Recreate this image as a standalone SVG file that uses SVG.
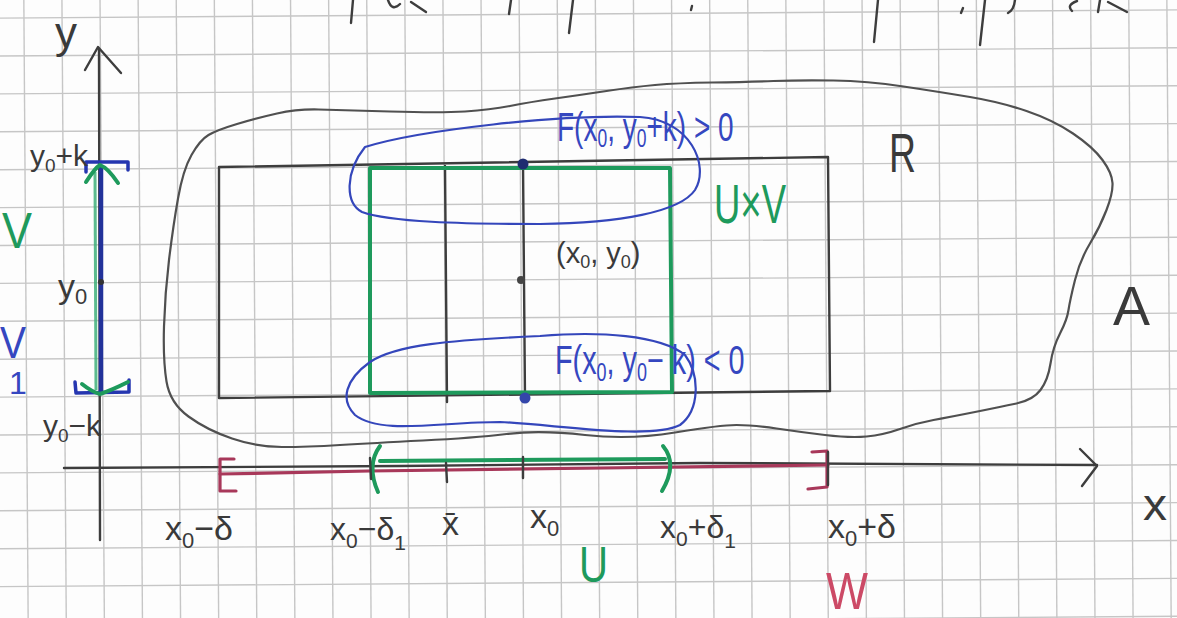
<svg xmlns="http://www.w3.org/2000/svg" width="1177" height="618" viewBox="0 0 1177 618">
<defs>
<style>
.grid line{stroke:#c6c6c6;stroke-width:1.4}
.ink{fill:none;stroke:#3d3d3d;stroke-width:2.4;stroke-linecap:round;stroke-linejoin:round}
.blob{fill:none;stroke:#505050;stroke-width:2.2;stroke-linejoin:round}
.grn{fill:none;stroke:#1e9a5c;stroke-width:4;stroke-linecap:round;stroke-linejoin:round}
.blu{fill:none;stroke:#3446bb;stroke-width:2.2;stroke-linecap:round;stroke-linejoin:round}
.red{fill:none;stroke:#a8385a;stroke-width:3.2;stroke-linecap:round;stroke-linejoin:round}
text{font-family:"Liberation Sans","DejaVu Sans",sans-serif}
.tk{fill:#3a3a3a}
.tb{fill:#3547c0}
.tg{fill:#1e9a5c}
.tr{fill:#cc4a66}
</style>
</defs>
<rect width="1177" height="618" fill="#fdfdfd"/>
<g class="grid" transform="rotate(-0.4 588 309)">
<line x1="26" y1="-10" x2="26" y2="630"/><line x1="64.1" y1="-10" x2="64.1" y2="630"/><line x1="102.2" y1="-10" x2="102.2" y2="630"/><line x1="140.3" y1="-10" x2="140.3" y2="630"/><line x1="178.4" y1="-10" x2="178.4" y2="630"/><line x1="216.5" y1="-10" x2="216.5" y2="630"/><line x1="254.6" y1="-10" x2="254.6" y2="630"/><line x1="292.7" y1="-10" x2="292.7" y2="630"/><line x1="330.8" y1="-10" x2="330.8" y2="630"/><line x1="368.9" y1="-10" x2="368.9" y2="630"/><line x1="407" y1="-10" x2="407" y2="630"/><line x1="445.1" y1="-10" x2="445.1" y2="630"/><line x1="483.2" y1="-10" x2="483.2" y2="630"/><line x1="521.3" y1="-10" x2="521.3" y2="630"/><line x1="559.4" y1="-10" x2="559.4" y2="630"/><line x1="597.5" y1="-10" x2="597.5" y2="630"/><line x1="635.6" y1="-10" x2="635.6" y2="630"/><line x1="673.7" y1="-10" x2="673.7" y2="630"/><line x1="711.8" y1="-10" x2="711.8" y2="630"/><line x1="749.9" y1="-10" x2="749.9" y2="630"/><line x1="788" y1="-10" x2="788" y2="630"/><line x1="826.1" y1="-10" x2="826.1" y2="630"/><line x1="864.2" y1="-10" x2="864.2" y2="630"/><line x1="902.3" y1="-10" x2="902.3" y2="630"/><line x1="940.4" y1="-10" x2="940.4" y2="630"/><line x1="978.5" y1="-10" x2="978.5" y2="630"/><line x1="1016.6" y1="-10" x2="1016.6" y2="630"/><line x1="1054.7" y1="-10" x2="1054.7" y2="630"/><line x1="1092.8" y1="-10" x2="1092.8" y2="630"/><line x1="1130.9" y1="-10" x2="1130.9" y2="630"/><line x1="1169" y1="-10" x2="1169" y2="630"/>
<line x1="-10" y1="14" x2="1190" y2="14"/><line x1="-10" y1="51.9" x2="1190" y2="51.9"/><line x1="-10" y1="89.8" x2="1190" y2="89.8"/><line x1="-10" y1="127.7" x2="1190" y2="127.7"/><line x1="-10" y1="165.6" x2="1190" y2="165.6"/><line x1="-10" y1="203.5" x2="1190" y2="203.5"/><line x1="-10" y1="241.4" x2="1190" y2="241.4"/><line x1="-10" y1="279.3" x2="1190" y2="279.3"/><line x1="-10" y1="317.2" x2="1190" y2="317.2"/><line x1="-10" y1="355.1" x2="1190" y2="355.1"/><line x1="-10" y1="393" x2="1190" y2="393"/><line x1="-10" y1="430.9" x2="1190" y2="430.9"/><line x1="-10" y1="468.8" x2="1190" y2="468.8"/><line x1="-10" y1="506.7" x2="1190" y2="506.7"/><line x1="-10" y1="544.6" x2="1190" y2="544.6"/><line x1="-10" y1="582.5" x2="1190" y2="582.5"/><line x1="-10" y1="620.4" x2="1190" y2="620.4"/>
</g>
<g id="top-fragments" class="ink">
<path d="M353,0 L351,23"/><path d="M388,0 Q392,12 400,4"/><path d="M411,2 L426,12"/><path d="M511,0 L509,14"/><path d="M573,0 L569,33"/><path d="M692,6 L691,10"/><path d="M878,0 L874,42"/><path d="M963,8 L961,13"/><path d="M985,0 L980,45"/><path d="M1015,0 Q1014,10 1008,13"/><path d="M1077,1 Q1066,5 1072,11"/><path d="M1100,0 L1098,12"/><path d="M1108,2 L1127,12"/>
</g>
<g id="set-A">
<path class="blob" d="M208.5,135 Q217,130 237,124 Q257,118 277,113.5 Q297,109 318.5,109.5 Q340,110 390,111.5 Q440,113 465,111.5 Q490,110 510,106 Q530,102 555,98.5 Q580,95 606.5,91 Q633,87 655,85 Q677,83 712,82.5 Q747,82 773.5,81 Q800,80 833.5,80.5 Q867,81 903.5,86.5 Q940,92 970,97 Q1000,102 1026.5,111 Q1053,120 1073,133.5 Q1093,147 1102.5,160 Q1112,173 1112.5,183 Q1113,193 1106.5,210 Q1100,227 1090,243.5 Q1080,260 1075,280 Q1070,300 1068.5,310 Q1067,320 1060,333.5 Q1053,347 1050.5,363.5 Q1048,380 1040.5,390 Q1033,400 1016.5,403.5 Q1000,407 975,412 Q950,417 933.5,420 Q917,423 900,429 Q883,435 866.5,436.5 Q850,438 825,435 Q800,432 776.5,428.5 Q753,425 736.5,425 Q720,425 675,432.5 Q630,440 585,435 Q540,430 506.5,434 Q473,438 423,440.5 Q373,443 340,445 Q307,447 282,447 Q257,447 232,438.5 Q207,430 188.5,416.5 Q170,403 166.5,381.5 Q163,360 164,326.5 Q165,293 169,260 Q173,227 178,198.5 Q183,170 191.5,155 Q200,140 208.5,135 Z"/>
<text class="tk" x="1113" y="325" font-size="56" textLength="37" lengthAdjust="spacingAndGlyphs">A</text>
</g>
<g id="rect-R">
<path class="ink" d="M219,167 L828,157 L830,391 L219,398 Z"/>
<path class="ink" d="M445,166 L447,402"/>
<path class="ink" d="M523,163 L525,398"/>
<text class="tk" x="889" y="172" font-size="56" textLength="27" lengthAdjust="spacingAndGlyphs">R</text>
</g>
<g id="UxV">
<path class="grn" d="M370,168 L670,168 L672,392 L370,393 Z"/>
<text class="tg" x="714" y="223" font-size="56" textLength="72" lengthAdjust="spacingAndGlyphs">U×V</text>
</g>
<g id="upper-set">
<path class="blu" d="M365,147 C420,130 560,114 640,117 C690,120 710,165 695,190 C680,212 620,223 540,224 C460,224 390,222 362,212 C345,203 345,172 365,147 Z"/>
<text class="tb" transform="translate(557,141) scale(0.7,1)" x="0" y="0" font-size="40">F(x<tspan font-size="25" dy="6">0</tspan><tspan dy="-6">, y</tspan><tspan font-size="25" dy="6">0</tspan><tspan dy="-6">+k) &gt; 0</tspan></text>
</g>
<g id="lower-set">
<path class="blu" d="M540,336 C600,331 660,335 685,355 C700,375 700,410 680,425 C650,440 560,425 500,422 C440,422 380,435 355,415 C340,400 345,380 370,362 C395,345 450,340 540,336 Z"/>
<text class="tb" transform="translate(555,374) scale(0.72,1)" x="0" y="0" font-size="40">F(x<tspan font-size="25" dy="7">0</tspan><tspan dy="-7">, y</tspan><tspan font-size="25" dy="7">0</tspan><tspan dy="-7">− k) &lt; 0</tspan></text>
</g>
<g id="point-x0y0">
<circle cx="523" cy="164" r="5.5" fill="#1f2c70"/>
<circle cx="521" cy="280" r="4" fill="#444"/>
<circle cx="525" cy="398" r="5.5" fill="#3446aa"/>
<text class="tk" x="556" y="263" font-size="29">(x<tspan font-size="18" dy="5">0</tspan><tspan dy="-5">, y</tspan><tspan font-size="18" dy="5">0</tspan><tspan dy="-5">)</tspan></text>
</g>
<g id="connectors">
<g id="y-axis">
<path class="ink" d="M100,540 L99,49"/>
<path class="ink" d="M85,70 L98,47 L121,73"/>
<text class="tk" x="55" y="48" font-size="44" textLength="22" lengthAdjust="spacingAndGlyphs">y</text>
</g>
<g id="x-axis">
<path class="ink" d="M64,468 L400,466 L700,463 L1097,465"/>
<path class="ink" d="M1080,449 L1097,466 L1082,486"/>
<text class="tk" x="1143" y="520" font-size="44" textLength="24" lengthAdjust="spacingAndGlyphs">x</text>
</g>
<g id="interval-W">
<path class="red" d="M220,474 L370,471 L600,468 L828,465"/>
<path class="red" d="M234,459 L220,459 L220,491 L236,491"/>
<path class="red" d="M812,452 L827,451 L827,487 L808,489"/>
<path class="ink" d="M828,452 L828,485" stroke-width="3"/>
<text class="tr" x="826" y="609" font-size="52" textLength="42" lengthAdjust="spacingAndGlyphs">W</text>
</g>
<g id="interval-U">
<path class="grn" d="M380,461 L665,459"/>
<path class="grn" d="M380,446 Q366,465 378,492"/>
<path class="grn" d="M663,446 Q678,464 662,491"/>
<path class="ink" d="M370,458 L371,479"/>
<path class="ink" d="M446,463 L447,482"/>
<path class="ink" d="M523,457 L523,478"/>
<text class="tg" x="579" y="582" font-size="50" textLength="29" lengthAdjust="spacingAndGlyphs">U</text>
</g>
<g id="interval-V">
<path d="M95,172 L96,390" fill="none" stroke="#3fb07a" stroke-width="3" opacity="0.85"/>
<path d="M101,165 L101,392" fill="none" stroke="#22329a" stroke-width="4.5"/>
<path d="M86,172 L86,162 L128,162 L128,170" fill="none" stroke="#2536b0" stroke-width="3.5" stroke-linecap="round" stroke-linejoin="round"/>
<path d="M75,382 L76,393 L129,392 L129,380" fill="none" stroke="#2536b0" stroke-width="3.5" stroke-linecap="round" stroke-linejoin="round"/>
<path class="grn" stroke-width="3" d="M86,182 Q95,168 100,165 Q108,168 118,183"/>
<path class="grn" stroke-width="3" d="M82,384 Q92,392 100,394 Q112,390 128,382"/>
<circle cx="101" cy="282" r="3" fill="#333"/>
<text class="tg" x="2" y="248" font-size="50" textLength="30" lengthAdjust="spacingAndGlyphs">V</text>
<text class="tb" x="0" y="358" font-size="44" textLength="26" lengthAdjust="spacingAndGlyphs">V</text>
<text class="tb" x="9" y="394" font-size="32">1</text>
</g>
</g>
<g id="y-labels" class="tk">
<text x="30" y="166" font-size="30">y<tspan font-size="19" dy="6">0</tspan><tspan dy="-6">+k</tspan></text>
<text x="58" y="298" font-size="34">y<tspan font-size="22" dy="6">0</tspan></text>
<text x="43" y="436" font-size="30">y<tspan font-size="19" dy="6">0</tspan><tspan dy="-6">−k</tspan></text>
</g>
<g id="x-labels" class="tk">
<text x="165" y="540" font-size="34">x<tspan font-size="22" dy="8">0</tspan><tspan dy="-8">−δ</tspan></text>
<text x="330" y="540" font-size="32">x<tspan font-size="21" dy="8">0</tspan><tspan dy="-8">−δ</tspan><tspan font-size="21" dy="10">1</tspan></text>
<text x="442" y="535" font-size="34">x̄</text>
<text x="530" y="528" font-size="34">x<tspan font-size="22" dy="8">0</tspan></text>
<text x="660" y="538" font-size="32">x<tspan font-size="21" dy="8">0</tspan><tspan dy="-8">+δ</tspan><tspan font-size="21" dy="10">1</tspan></text>
<text x="828" y="538" font-size="34">x<tspan font-size="22" dy="8">0</tspan><tspan dy="-8">+δ</tspan></text>
</g>
</svg>
